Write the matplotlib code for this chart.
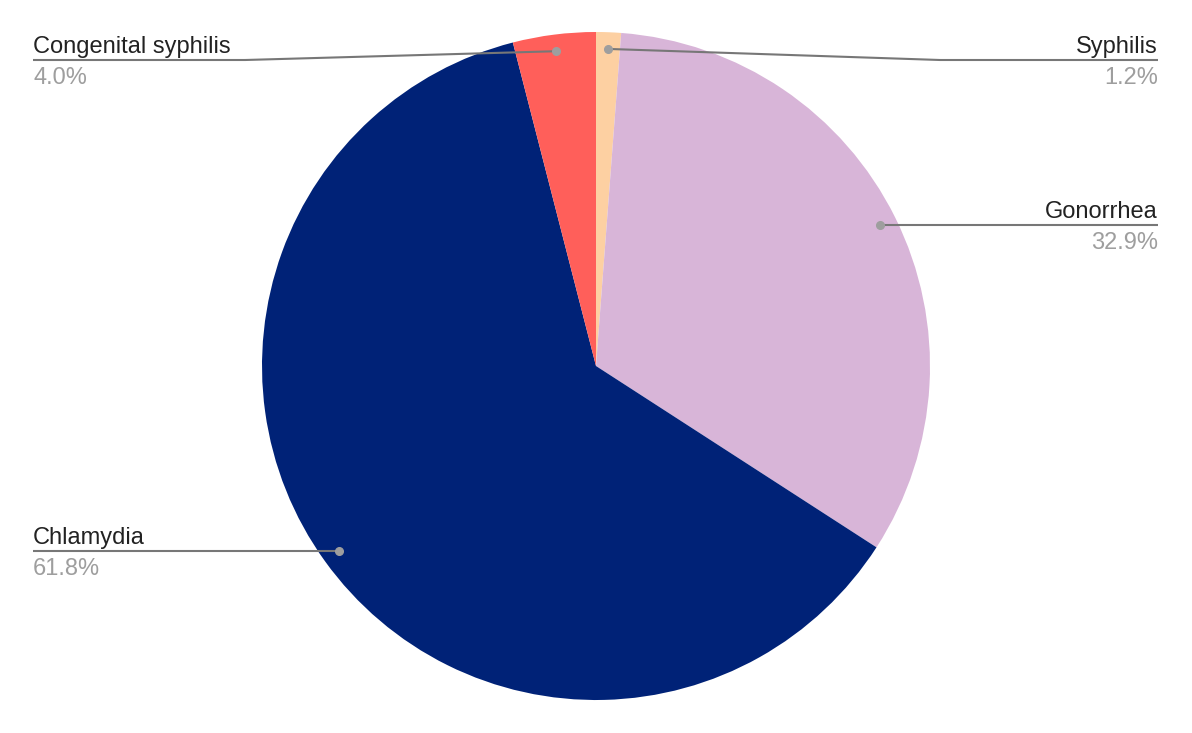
import numpy as np
import matplotlib.pyplot as plt

plt.rcParams['font.family'] = ['Liberation Sans', 'DejaVu Sans']

names = ['Syphilis', 'Gonorrhea', 'Chlamydia', 'Congenital syphilis']
values = [1.2, 32.9, 61.8, 4.0]
colors = ['#fdd0a2', '#d8b5d8', '#002277', '#ff5f5a']

W, H = 1192, 733
fig = plt.figure(figsize=(W / 100, H / 100), dpi=100)
ax = fig.add_axes([0, 0, 1, 1])

cx, cy, r = 596, 367, 334
ax.pie(values, colors=colors, startangle=90, counterclock=False,
       center=(cx, cy), radius=r, frame=True,
       wedgeprops=dict(linewidth=0))
ax.set_xlim(0, W)
ax.set_ylim(0, H)
ax.set_aspect('equal')
ax.axis('off')

# label layout: side, line y (None = same as dot), elbow x
layout = {
    'Syphilis': ('right', H - 60, 940),
    'Gonorrhea': ('right', None, None),
    'Chlamydia': ('left', None, None),
    'Congenital syphilis': ('left', H - 60, 245),
}
xl, xr = 33, 1158
total = sum(values)
cum = 0
for name, v in zip(names, values):
    mid = 90 - 360 * (cum + v / 2) / total
    cum += v
    dx = cx + 0.95 * r * np.cos(np.radians(mid))
    dy = cy + 0.95 * r * np.sin(np.radians(mid))
    side, ly, ex = layout[name]
    if ly is None:
        ly = dy
        ex = dx
    tx = xr if side == 'right' else xl
    ha = 'right' if side == 'right' else 'left'
    ax.plot([dx, ex, tx], [dy, ly, ly], color='#777777', lw=1.5,
            solid_capstyle='butt', zorder=3)
    ax.plot(dx, dy, 'o', color='#9e9e9e', ms=5.5, zorder=4)
    ax.text(tx, ly + 7, name, ha=ha, va='baseline', fontsize=17,
            color='#222222')
    ax.text(tx, ly - 7, f'{v:.1f}%', ha=ha, va='top', fontsize=17,
            color='#9e9e9e')

fig.savefig('out.png', dpi=100, facecolor='white')
